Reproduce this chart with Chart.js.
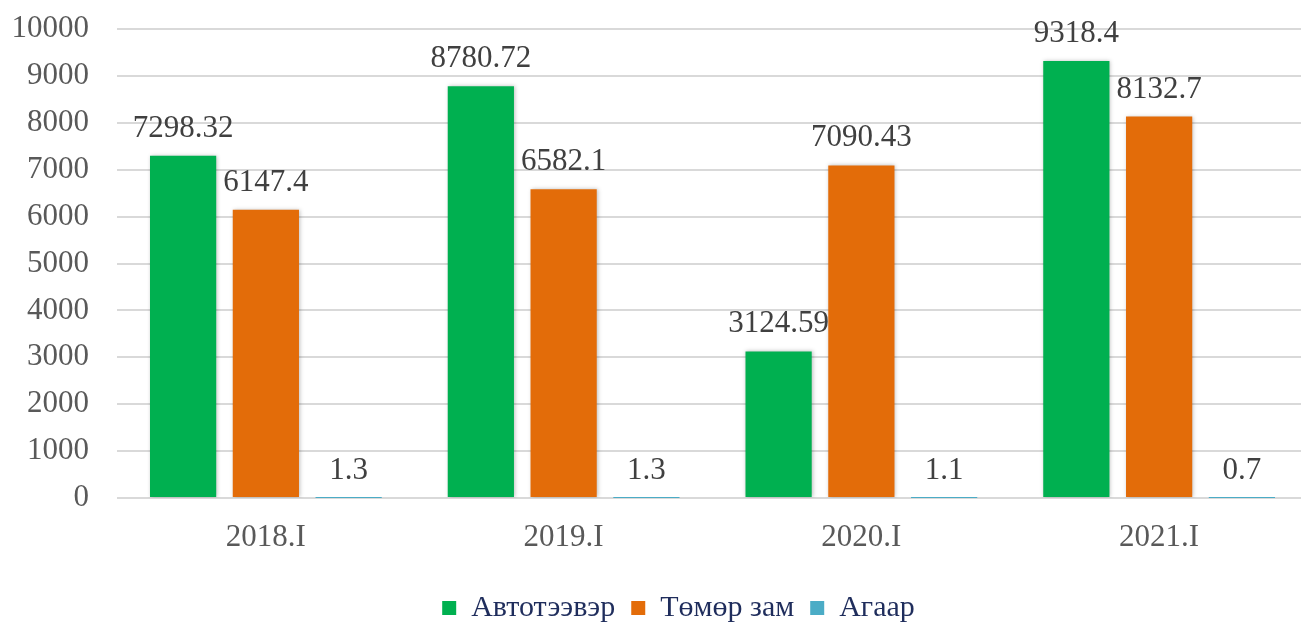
<!DOCTYPE html>
<html>
<head>
<meta charset="utf-8">
<script src="https://cdn.jsdelivr.net/npm/chart.js@4"></script>
<style>
  html, body { margin: 0; padding: 0; background: #fff; }
  #wrap { width: 1301px; height: 623px; }
</style>
</head>
<body>
<div id="wrap"><canvas id="chart"></canvas></div>
<script>
// ===== Data =====
const categories = ["2018.I", "2019.I", "2020.I", "2021.I"];
const seriesNames = ["Автотээвэр", "Төмөр зам", "Агаар"];
const autoValues = [7298.32, 8780.72, 3124.59, 9318.4];
const railValues = [6147.4, 6582.1, 7090.43, 8132.7];
const airValues = [1.3, 1.3, 1.1, 0.7];
const yTicks = [0, 1000, 2000, 3000, 4000, 5000, 6000, 7000, 8000, 9000, 10000];

const SERIF = "'Liberation Serif', 'Times New Roman', serif";
const FONT_SIZE = 31;

// ===== value labels above bars =====
const valueLabels = {
    id: "valueLabels",
    afterDatasetsDraw(chart) {
        const ctx = chart.ctx;
        ctx.save();
        ctx.font = FONT_SIZE + "px " + SERIF;
        ctx.fillStyle = "#404040";
        ctx.textAlign = "center";
        ctx.textBaseline = "alphabetic";
        chart.data.datasets.forEach((ds, i) => {
            chart.getDatasetMeta(i).data.forEach((bar, j) => {
                ctx.fillText(String(ds.data[j]), bar.x, bar.y - 19);
            });
        });
        ctx.restore();
    }
};

// soft shadow on the visible bars
const barShadow = {
    id: "barShadow",
    beforeDatasetDraw(chart, args) {
        const ctx = chart.ctx;
        ctx.save();
        if (args.index < 2) {
            ctx.shadowColor = "rgba(0,0,0,0.25)";
            ctx.shadowBlur = 4;
            ctx.shadowOffsetX = 1;
        }
    },
    afterDatasetDraw(chart) {
        chart.ctx.restore();
    }
};

// plot area runs slightly past the right edge, legend sits right of centre
const layoutTweaks = {
    id: "layoutTweaks",
    afterLayout(chart) {
        const x = chart.scales.x;
        x.right += 7;
        x.width += 7;
        x.configure();
        chart.chartArea.right += 7;
        chart.chartArea.width += 7;
        chart.legend.left += 28;
        chart.legend.right += 28;
    }
};

new Chart(document.getElementById("chart"), {
    type: "bar",
    data: {
        labels: categories,
        datasets: [
            { label: seriesNames[0], data: autoValues, backgroundColor: "#00B050" },
            { label: seriesNames[1], data: railValues, backgroundColor: "#E36C09" },
            { label: seriesNames[2], data: airValues, backgroundColor: "#4BACC6" }
        ]
    },
    plugins: [barShadow, valueLabels, layoutTweaks],
    options: {
        responsive: true,
        maintainAspectRatio: false,
        animation: false,
        categoryPercentage: 0.834,
        barPercentage: 0.80,
        layout: { padding: { top: 29, right: 0, left: 0, bottom: -10 } },
        plugins: {
            tooltip: { enabled: false },
            legend: {
                position: "bottom",
                labels: {
                    boxWidth: 14,
                    boxHeight: 14,
                    padding: 16,
                    color: "#1F2D5C",
                    font: { family: SERIF, size: 30 }
                }
            }
        },
        scales: {
            x: {
                grid: { display: false },
                border: { display: false },
                ticks: {
                    color: "#595959",
                    padding: 13,
                    font: { family: SERIF, size: FONT_SIZE }
                },
                afterFit: s => {
                    s.height = 79;
                    s.paddingLeft = 0;
                    s.paddingRight = 0;
                }
            },
            y: {
                min: 0,
                max: 10000,
                afterBuildTicks: s => { s.ticks = yTicks.map(v => ({ value: v })); },
                grid: { color: "#D9D9D9", lineWidth: 2, drawTicks: false },
                border: { display: false },
                ticks: {
                    color: "#595959",
                    padding: 28,
                    font: { family: SERIF, size: FONT_SIZE },
                    callback: v => String(v)
                },
                afterFit: s => {
                    s.width = 117;
                    s.paddingTop = 0;
                    s.paddingBottom = 0;
                }
            }
        }
    }
});
</script>
</body>
</html>
